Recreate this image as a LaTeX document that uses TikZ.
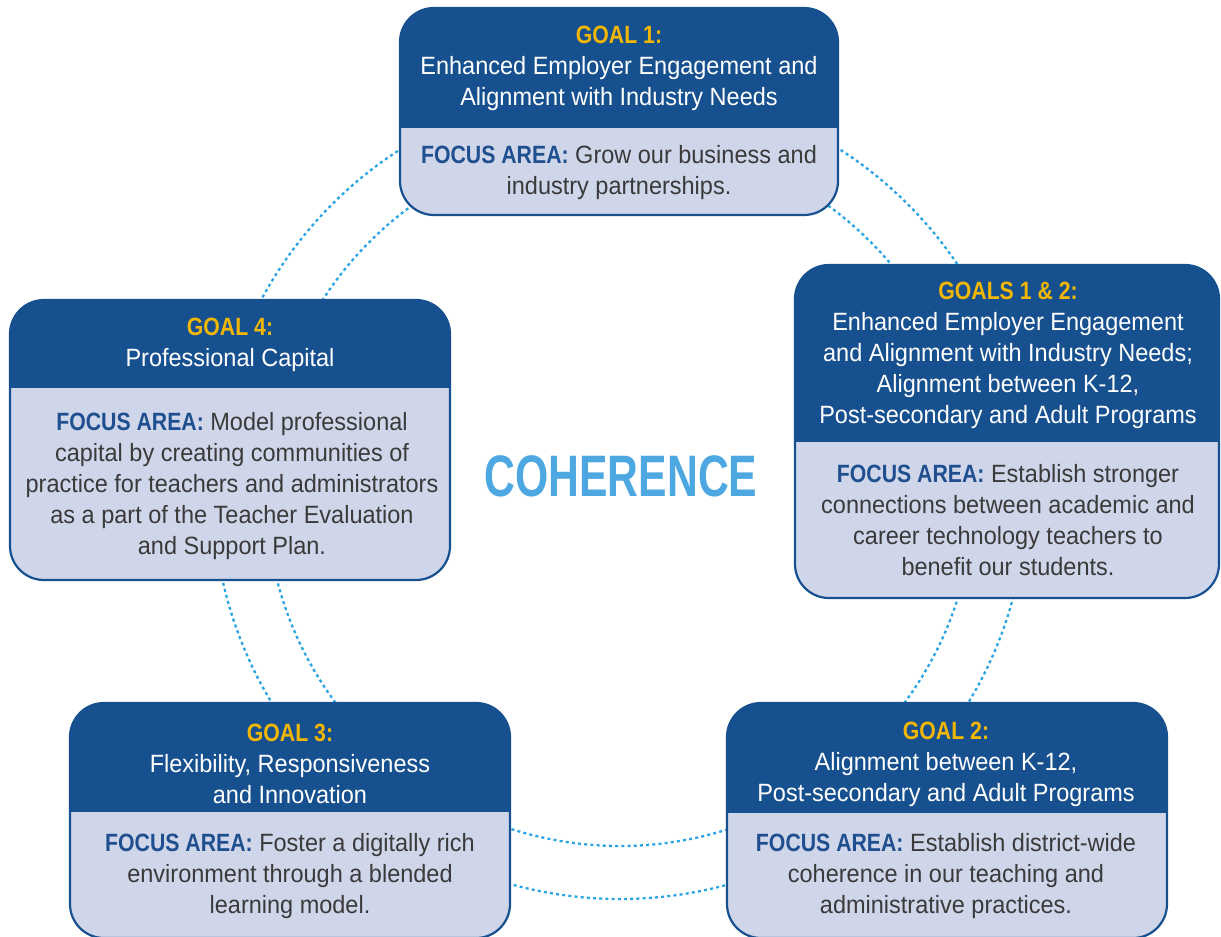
\documentclass[tikz,border=0pt]{standalone}
\usepackage{fontspec}
\setmainfont{Liberation Sans}[FakeStretch=0.94]
\newfontfamily\cohfont{Liberation Sans}[FakeStretch=0.73]
\newfontfamily\bcond{Liberation Sans}[FakeStretch=0.85]
\definecolor{navy}{HTML}{17508F}
\definecolor{lav}{HTML}{D0D6EA}
\definecolor{gold}{HTML}{F2B705}
\definecolor{dotc}{HTML}{2AA4E2}
\definecolor{txt}{HTML}{3A3A3A}
\definecolor{focusc}{HTML}{1F4F8F}
\definecolor{coh}{HTML}{4DA8E2}
\tikzset{
  ring/.style={draw=dotc, line width=2.3pt, dash pattern=on 3pt off 3.2pt},
  head/.style={text=white, align=center, font=\fontsize{25}{31}\selectfont, inner sep=0pt},
  body/.style={text=txt, align=center, font=\fontsize{25}{31}\selectfont, inner sep=0pt},
  goalbox/.style 2 args={draw=navy, line width=2.2pt, fill=lav, rounded corners=34pt,
    inner sep=0pt, minimum width=#1, minimum height=#2},
  topband/.style={path picture={\fill[navy, sharp corners] (path picture bounding box.north west)
    rectangle ([yshift=-#1]path picture bounding box.north east);}},
}
\newcommand{\gl}[1]{{\bcond\bfseries\color{gold}#1}}
\newcommand{\fa}{{\bcond\bfseries\color{focusc}FOCUS AREA:}}
\begin{document}
\begin{tikzpicture}[x=1pt,y=-1pt]
\useasboundingbox (0,0) rectangle (1221,937);
\clip (0,0) rectangle (1221,937);
% rings
\draw[ring] (620,492) circle[radius=354];
\draw[ring] (620,492) circle[radius=407];
% center title
\node (coh) at (621,476) {\cohfont\fontsize{58.5}{66}\selectfont\bfseries\color{coh}COHERENCE};
% boxes
\node (g1) [goalbox={438pt}{207pt}, topband=120pt] at (619,111.5) {};
\node (g12) [goalbox={424pt}{333pt}, topband=177pt] at (1007,431.5) {};
\node (g4) [goalbox={440pt}{280pt}, topband=88pt] at (230,440) {};
\node (g3) [goalbox={440pt}{235pt}, topband=109pt] at (290,820.5) {};
\node (g2) [goalbox={440pt}{235pt}, topband=110pt] at (947,820.5) {};
% texts
\node (g1h) [head] at (619,68) {\gl{GOAL 1:}\\Enhanced Employer Engagement and\\Alignment with Industry Needs};
\node (g1f) [body] at (619,173) {\fa{} Grow our business and\\industry partnerships.};
\node (g12h) [head] at (1008,355) {\gl{GOALS 1 \& 2:}\\Enhanced Employer Engagement\\and Alignment with Industry Needs;\\Alignment between K-12,\\Post-secondary and Adult Programs};
\node (g12f) [body] at (1008,520) {\fa{} Establish stronger\\connections between academic and\\career technology teachers to\\benefit our students.};
\node (g4h) [head] at (230,345) {\gl{GOAL 4:}\\Professional Capital};
\node (g4f) [body] at (232,486) {\fa{} Model professional\\capital by creating communities of\\practice for teachers and administrators\\as a part of the Teacher Evaluation\\and Support Plan.};
\node (g3h) [head] at (290,764) {\gl{GOAL 3:}\\Flexibility, Responsiveness\\and Innovation};
\node (g3f) [body] at (290,876) {\fa{} Foster a digitally rich\\environment through a blended\\learning model.};
\node (g2h) [head] at (946,764) {\gl{GOAL 2:}\\Alignment between K-12,\\Post-secondary and Adult Programs};
\node (g2f) [body] at (946,876) {\fa{} Establish district-wide\\coherence in our teaching and\\administrative practices.};
\end{tikzpicture}
\end{document}
